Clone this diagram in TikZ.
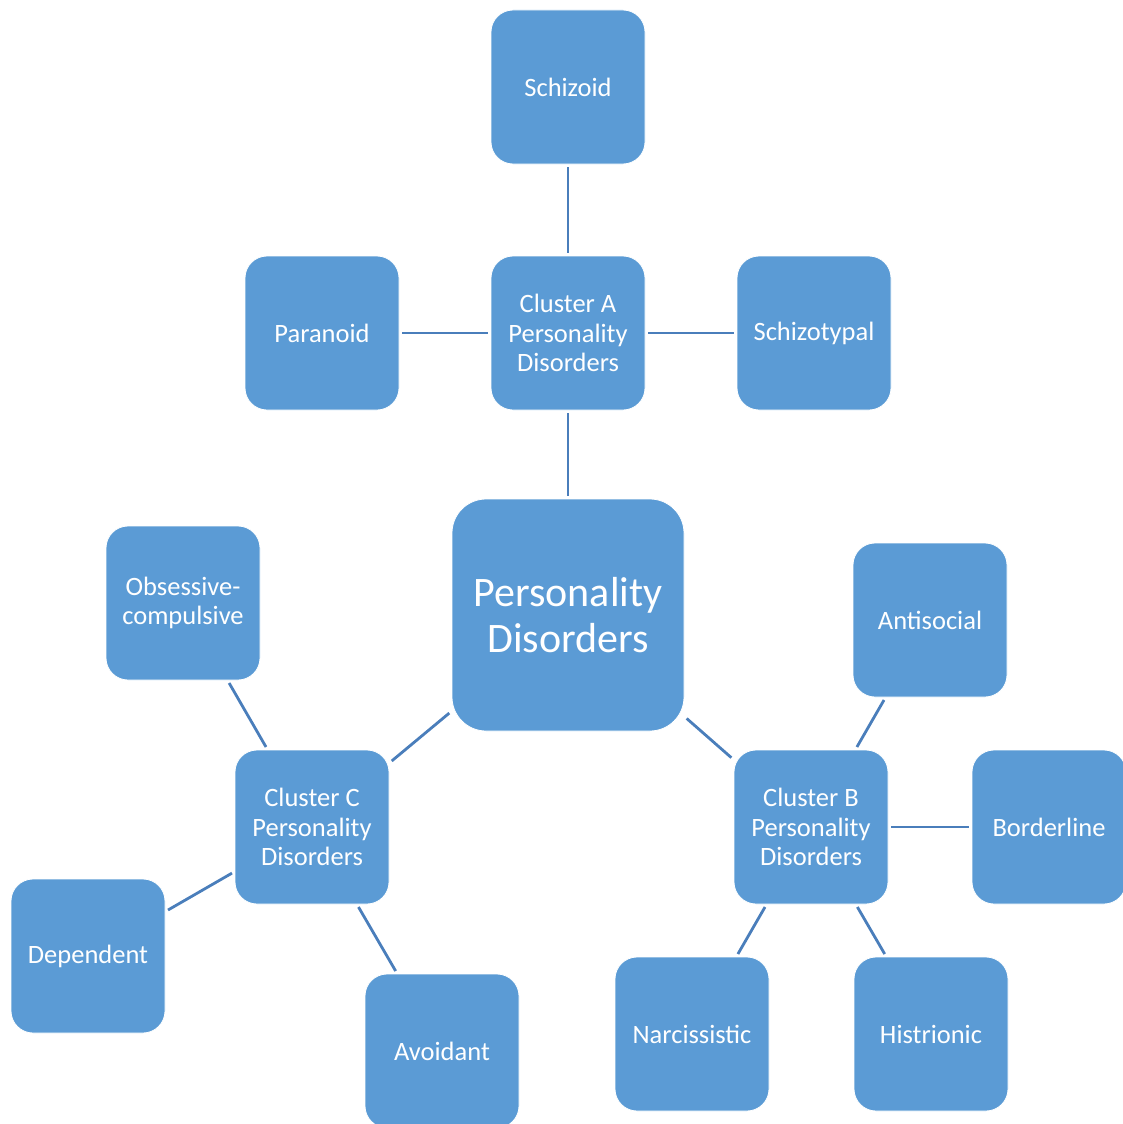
\documentclass[tikz,border=0pt]{standalone}
\usepackage{fontspec}
\setmainfont{Carlito}
\definecolor{boxfill}{RGB}{91,155,213}
\definecolor{linkcol}{RGB}{74,126,187}
\begin{document}
\begin{tikzpicture}[x=1pt,y=-1pt,
  box/.style={rectangle, rounded corners=22pt, fill=boxfill, draw=white, line width=0.8pt,
    minimum width=154pt, minimum height=154pt, inner sep=0pt, align=center,
    text=white, font=\fontsize{26.5}{29.5}\selectfont},
  bigbox/.style={box, rounded corners=34pt, minimum width=232pt, minimum height=232pt,
    font=\fontsize{42}{46}\selectfont},
  link/.style={draw=linkcol, line width=2.8pt, shorten <=3pt, shorten >=3pt}]
\useasboundingbox (0,0) rectangle (1123,1124);
\begin{scope}
\clip (0,0) rectangle (1123,1124);
% central node
\node[bigbox] (pd) at (568,615) {Personality\\Disorders};
% cluster A
\node[box] (ca) at (568,333) {Cluster A\\Personality\\Disorders};
\node[box] (schizoid) at (568,87) {Schizoid};
\node[box] (paranoid) at (322,333) {Paranoid};
\node[box] (schizotypal) at (814,333) {Schizotypal};
% cluster B
\node[box] (cb) at (811,827) {Cluster B\\Personality\\Disorders};
\node[box] (antisocial) at (930,620) {Antisocial};
\node[box] (borderline) at (1049,827) {Borderline};
\node[box] (narcissistic) at (692,1034) {Narcissistic};
\node[box] (histrionic) at (931,1034) {Histrionic};
% cluster C
\node[box] (cc) at (312,827) {Cluster C\\Personality\\Disorders};
\node[box] (obsessive) at (183,603) {Obsessive-\\compulsive};
\node[box] (dependent) at (88,956) {Dependent};
\node[box] (avoidant) at (442,1051) {Avoidant};
% connectors
\draw[link] (schizoid) -- (ca);
\draw[link] (paranoid) -- (ca);
\draw[link] (ca) -- (schizotypal);
\draw[link] (ca) -- (pd);
\draw[link] (pd) -- (cc);
\draw[link] (pd) -- (cb);
\draw[link] (obsessive) -- (cc);
\draw[link] (cc) -- (dependent);
\draw[link] (cc) -- (avoidant);
\draw[link] (antisocial) -- (cb);
\draw[link] (cb) -- (borderline);
\draw[link] (cb) -- (narcissistic);
\draw[link] (cb) -- (histrionic);
\end{scope}
\end{tikzpicture}
\end{document}
